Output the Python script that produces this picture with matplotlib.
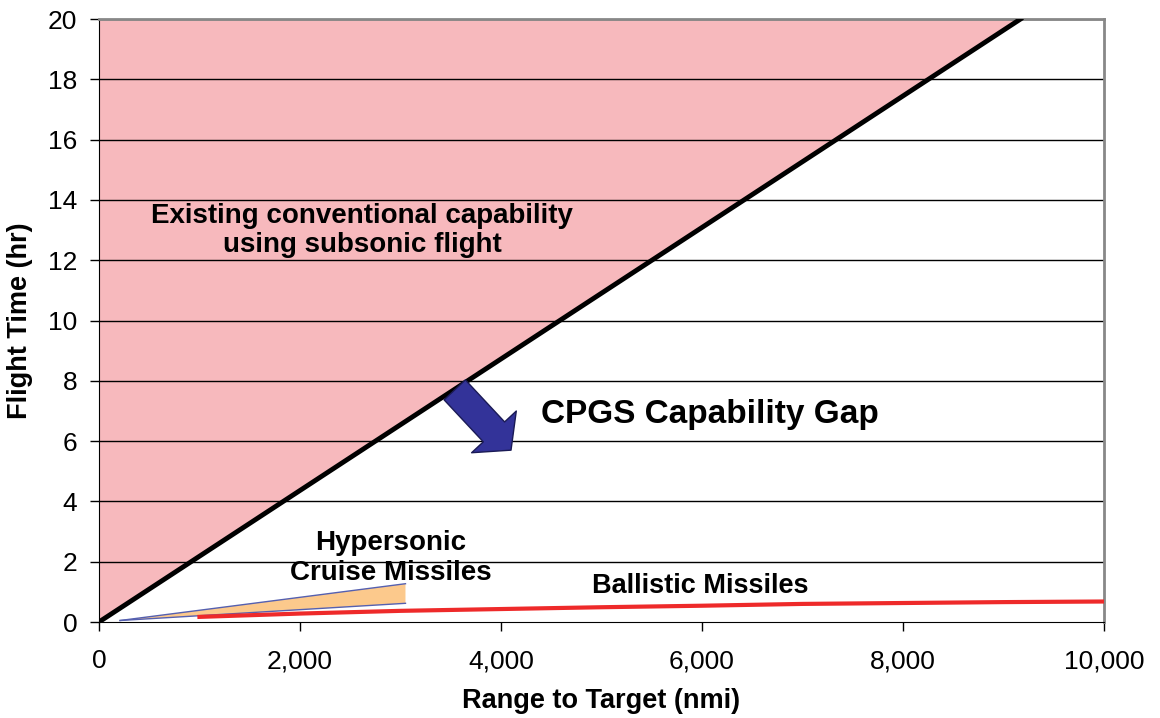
import matplotlib.pyplot as plt
from matplotlib.ticker import FuncFormatter

plt.rcParams['font.family'] = ['Liberation Sans', 'DejaVu Sans']

# subsonic boundary (range nmi, hours)
subsonic_range = [0, 9170]
subsonic_time = [0, 20]

# hypersonic cruise missile wedge
hcm_range = [210, 3050, 3050]
hcm_time = [0.05, 1.27, 0.62]

# ballistic missiles
bm_range = [1000, 2000, 3000, 4000, 5000, 6000, 7000, 8000, 9000, 10000]
bm_time = [0.17, 0.28, 0.37, 0.43, 0.49, 0.54, 0.6, 0.63, 0.66, 0.68]

fig = plt.figure(figsize=(11.6, 7.18), dpi=100)
ax = fig.add_axes([0.0853, 0.1337, 0.8664, 0.8398])

ax.fill_between([0, subsonic_range[1]], [0, 20], [20, 20], color='#f7b9bd', lw=0, zorder=1)
ax.plot(subsonic_range, subsonic_time, color='black', lw=3.5, zorder=4)

ax.fill(hcm_range, hcm_time, facecolor='#fcc98c', edgecolor='none', zorder=3)
ax.plot([hcm_range[0], hcm_range[1]], [hcm_time[0], hcm_time[1]], color='#5560b0', lw=1, zorder=3)
ax.plot([hcm_range[0], hcm_range[2]], [hcm_time[0], hcm_time[2]], color='#5560b0', lw=1, zorder=3)

ax.plot(bm_range, bm_time, color='#ee2a2a', lw=3, zorder=3)

for y in range(2, 21, 2):
    ax.axhline(y, color='black', lw=1, zorder=2)

ax.annotate('', xy=(4100, 5.7), xytext=(3540, 7.7),
            arrowprops=dict(arrowstyle='simple,head_length=0.9,head_width=2.2,tail_width=1.05',
                            mutation_scale=20, fc='#333399', ec='#1a1a55', lw=1,
                            shrinkA=0, shrinkB=0),
            zorder=5)

ax.text(2620, 13.0, 'Existing conventional capability\nusing subsonic flight',
        ha='center', va='center', fontsize=20, fontweight='bold', linespacing=1.15, zorder=6)
ax.text(4400, 6.87, 'CPGS Capability Gap', ha='left', va='center',
        fontsize=24, fontweight='bold', zorder=6)
ax.text(2900, 2.62, 'Hypersonic', ha='center', va='center', fontsize=20, fontweight='bold', zorder=6)
ax.text(2900, 1.63, 'Cruise Missiles', ha='center', va='center', fontsize=20, fontweight='bold', zorder=6)
ax.text(5980, 1.19, 'Ballistic Missiles', ha='center', va='center', fontsize=19.5, fontweight='bold', zorder=6)

ax.set_xlim(0, 10000)
ax.set_ylim(0, 20)
ax.set_xticks(range(0, 10001, 2000))
ax.set_yticks(range(0, 21, 2))
ax.xaxis.set_major_formatter(FuncFormatter(lambda v, p: f'{int(v):,}'))
ax.tick_params(labelsize=19, length=6.5, width=1)
ax.tick_params(axis='y', pad=9)
ax.tick_params(axis='x', pad=13)
ax.set_xlabel('Range to Target (nmi)', fontsize=19.5, fontweight='bold')
ax.set_ylabel('Flight Time (hr)', fontsize=19.5, fontweight='bold')
ax.xaxis.set_label_coords(0.5, -0.11)
ax.yaxis.set_label_coords(-0.066, 0.5)

for s in ['top', 'right']:
    ax.spines[s].set_color('#888888')
    ax.spines[s].set_linewidth(2)
for s in ['left', 'bottom']:
    ax.spines[s].set_color('black')

fig.savefig('out.png', dpi=100)
